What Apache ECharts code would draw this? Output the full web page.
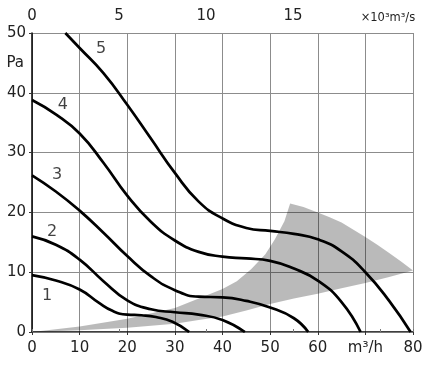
<!DOCTYPE html>
<html><head><meta charset="utf-8">
<script src="https://cdn.jsdelivr.net/npm/echarts@6/dist/echarts.min.js"></script>
<style>html,body{margin:0;padding:0;background:#fff}#c{width:430px;height:367px}</style>
</head><body><div id="c"></div>
<script>
// Fan curves: [airflow m³/h, pressure Pa]
var curve1 = [[0,9.5],[5,8.6],[10,7.1],[14,4.9],[17,3.5],[20,2.9],[23,2.8],[26,2.5],[29.5,1.7],[33,0]];
var curve2 = [[0,16],[5,14.6],[10,12.1],[15,8.5],[20,5.3],[25,3.8],[30,3.3],[35,2.9],[40,2],[44.7,0]];
var curve3 = [[0,26.2],[5,23.5],[10,20.3],[15,16.6],[20,12.7],[25,9.3],[30,7],[35,5.9],[40,5.8],[45,5.2],[50,4.1],[55,2.3],[58,0]];
var curve4 = [[0,38.8],[5,36.4],[10,33.2],[15,28.3],[20,22.8],[25,18.4],[30,15.3],[35,13.4],[40,12.6],[45,12.3],[50,11.9],[55,10.6],[60,8.6],[65,5],[69,0]];
var curve5 = [[7,50],[10,47.5],[15,43.3],[20,38],[25,32.3],[30,26.6],[35,21.8],[40,19],[45,17.4],[50,16.9],[55,16.4],[60,15.5],[65,13.5],[70,10],[75,5.2],[79.5,0]];
var curveNames = ['1','2','3','4','5'];
var curveLabelPos = [[3.15,6],[4.2,16.8],[5.25,26.3],[6.5,38],[14.5,47.3]];
// Shaded operating zone boundary
var shadeUpper = [[0,0],[10,0.9],[20,2.2],[30,4],[35,5.6],[40,7.2],[43,8.5],[46,10.5],[49,13],[51,15.5],[53,18.5],[54.2,21.5]];
var shadeArc = [[57,20.9],[60,20],[62.5,19.2],[65,18.3],[67.5,17.1],[70,15.9],[72.5,14.6],[75,13.2],[77.5,11.8],[80,10.3]];
var shadeLower = [[75,9.2],[70,8.2],[65,7.3],[60,6.4],[55,5.6],[50,4.7],[45,3.6],[40,2.6],[35,2],[30,1.4],[20,0.7],[10,0.3],[0,0]];
// Axis tick labels
var xTicks = {0:'0',10:'10',20:'20',30:'30',40:'40',50:'50',60:'60',70:'m³/h',80:'80'};
var topTicks = {0:'0',5:'5',10:'10',15:'15'};
var topUnit = '×10³m³/s';
var yUnit = 'Pa';

var shadePoly = shadeUpper.concat(shadeArc, shadeLower);
var curves = [curve1, curve2, curve3, curve4, curve5];
var font = 'DejaVu Sans';

var chart = echarts.init(document.getElementById('c'), null, {renderer:'canvas'});
var series = [{
  type:'custom', xAxisIndex:0, yAxisIndex:0, z:1, clip:true,
  data:[[0,0]],
  renderItem:function(params, api){
    var pts = shadePoly.map(function(p){ return api.coord(p); });
    return {type:'polygon', shape:{points:pts}, style:{fill:'rgba(0,0,0,0.27)'}};
  }
}];
curves.forEach(function(c){
  series.push({type:'line', data:c, smooth:0.5, showSymbol:false, symbol:'none', z:3,
    lineStyle:{color:'#000', width:2.7}, clip:true, silent:true});
});
series.push({type:'scatter', symbolSize:0, z:4, silent:true,
  data:curveLabelPos.map(function(p,i){ return {value:p, name:curveNames[i]}; }),
  label:{show:true, position:'inside', formatter:'{b}', color:'#111', fontFamily:font, fontSize:16}
});

chart.setOption({
  animation:false,
  backgroundColor:'#fff',
  grid:{left:32, right:17, top:33, bottom:35},
  xAxis:[{
    type:'value', min:0, max:80, interval:10, position:'bottom',
    axisLine:{show:true, lineStyle:{color:'#000', width:1.5}},
    axisTick:{show:true, length:3, lineStyle:{color:'#333'}},
    axisLabel:{fontFamily:font, fontSize:15, color:'#222', margin:9,
      formatter:function(v){ return xTicks[v] !== undefined ? xTicks[v] : ''; }},
    splitLine:{show:true, lineStyle:{color:'#8c8c8c', width:1}}
  },{
    type:'value', min:0, max:21.9, interval:5, position:'top', offset:6,
    axisLine:{show:true, lineStyle:{color:'#777', width:1}},
    axisTick:{show:true, length:3, lineStyle:{color:'#777'}},
    axisLabel:{fontFamily:font, fontSize:15, color:'#222', margin:3,
      formatter:function(v){ if (v===20) return '{u|'+topUnit+'}'; return topTicks[v] !== undefined ? topTicks[v] : ''; },
      rich:{u:{fontFamily:font, fontSize:11.5, color:'#222', padding:[0,0,0,16]}}},
    splitLine:{show:false}
  }],
  yAxis:[{
    type:'value', min:0, max:50, interval:10,
    axisLine:{show:true, lineStyle:{color:'#000', width:1.5}},
    axisTick:{show:true, length:3, lineStyle:{color:'#333'}},
    axisLabel:{fontFamily:font, fontSize:15, color:'#222', margin:6},
    splitLine:{show:true, lineStyle:{color:'#8c8c8c', width:1}}
  },{
    type:'value', min:0, max:50, interval:5, position:'left',
    axisLine:{show:false}, axisTick:{show:false}, splitLine:{show:false},
    axisLabel:{fontFamily:font, fontSize:15, color:'#222', margin:8,
      formatter:function(v){ return v===45 ? yUnit : ''; }}
  }],
  series:series
});
</script></body></html>
